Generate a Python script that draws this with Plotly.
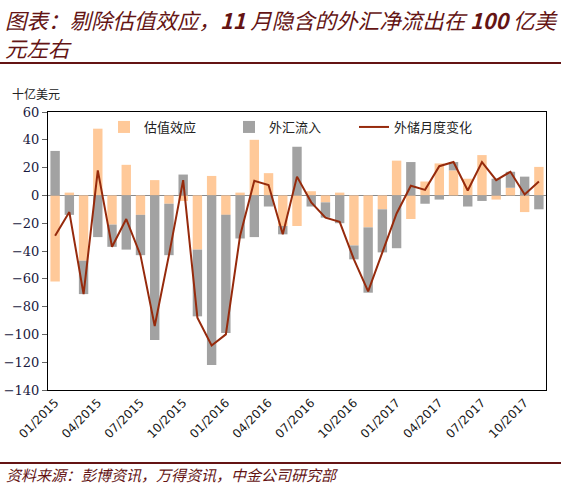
import plotly.graph_objects as go

# months 01/2015 .. 11/2017
months = [f"{m:02d}/{y}" for y in (2015, 2016, 2017) for m in range(1, 13)][:35]

# 估值效应 (valuation effect), 十亿美元
valuation = [-62, 2, -47, 48, -21, 22, -14, 11, -6, -4, -39, 14,
             -14, 2, 40, 16, -22, -22, 3, -5, 2, -36, -23, -10,
             25, -17, 10, 23, 18, 12, 29, -3, 5.5, -12, 20.5]

# 外汇流入 (FX inflow)
fx_inflow = [32, -14, -24, -30, -16, -39, -29, -104, -37, 15, -48, -122,
             -85, -31, -30, -8, -6, 35, -8, -11, -20, -10, -47, -31,
             -38, 24, -6, -3, 6, -8, -4, 12, 11.5, 13.5, -10]

# 外储月度变化 (monthly change in reserves)
reserve_change = [-29, -12, -71, 18, -37, -17, -43, -94, -43, 11, -88, -108,
                  -100, -29, 10.5, 7.5, -28, 13.5, -5, -16, -19, -46, -69, -41,
                  -13, 7, 4, 21, 24, 3.5, 24, 11, 17, 0.7, 10]

tick_labels = months[::3]

RED = "#641414"
CJK = "Noto Sans CJK SC"

fig = go.Figure()
fig.add_trace(go.Bar(x=months, y=valuation, name="估值效应",
                     marker_color="#FFC999", marker_line_width=0))
fig.add_trace(go.Bar(x=months, y=fx_inflow, name="外汇流入",
                     marker_color="#A2A2A2", marker_line_width=0))
fig.add_trace(go.Scatter(x=months, y=reserve_change, name="外储月度变化",
                         mode="lines", line=dict(color="#962A0C", width=2)))

L, R, T, B = 48, 546, 112, 390
W, H = R - L, B - T

def px(x):
    return (x - L) / W

def py(y):
    return (B - y) / H

fig.update_layout(
    width=561, height=492,
    margin=dict(l=L, r=561 - R, t=T, b=492 - B),
    paper_bgcolor="white", plot_bgcolor="white",
    barmode="relative", bargap=0.34,
    font=dict(family="DejaVu Sans", size=12, color="#1a1a1a"),
    showlegend=True,
    legend=dict(orientation="h", x=px(104), y=1.0, xanchor="left", yanchor="top",
                font=dict(family=CJK, size=13, color="#222"),
                entrywidth=80, bgcolor="rgba(0,0,0,0)", traceorder="normal",
                itemwidth=30),
    xaxis=dict(type="category", tickmode="array", tickvals=tick_labels,
               ticktext=tick_labels, tickangle=-45, showgrid=False,
               showline=True, linecolor="black", linewidth=1, mirror=True,
               ticks="", automargin=False,
               tickfont=dict(size=12, family="DejaVu Sans")),
    yaxis=dict(range=[-140, 60], dtick=20, showgrid=False, zeroline=True,
               zerolinecolor="#8a8a8a", zerolinewidth=1,
               showline=True, linecolor="black", linewidth=1, mirror=True,
               ticks="outside", ticklen=5, tickcolor="#666", automargin=False,
               tickfont=dict(size=13, family="DejaVu Serif", color="#1a1a40")),
)

# two-line title in one annotation
fig.add_annotation(text="<i>图表：剔除估值效应，<b>11</b> 月隐含的外汇净流出在 <b>100</b> 亿美"
                        "<br>元左右</i>",
                   x=px(3), y=py(33), xref="paper", yref="paper",
                   xanchor="left", yanchor="middle", align="left", showarrow=False,
                   font=dict(family=CJK, size=21.5, color=RED))
fig.add_shape(type="line", xref="paper", yref="paper",
              x0=px(0), x1=px(561), y0=py(63), y1=py(63),
              line=dict(color=RED, width=2))
fig.add_annotation(text="十亿美元", x=px(10), y=py(93), xref="paper", yref="paper",
                   xanchor="left", yanchor="middle", showarrow=False,
                   font=dict(family=CJK, size=12, color="#222"))
fig.add_shape(type="line", xref="paper", yref="paper",
              x0=px(0), x1=px(561), y0=py(463), y1=py(463),
              line=dict(color=RED, width=2))
fig.add_annotation(text="<i>资料来源：彭博资讯，万得资讯，中金公司研究部</i>",
                   x=px(4), y=py(475), xref="paper", yref="paper",
                   xanchor="left", yanchor="middle", showarrow=False,
                   font=dict(family=CJK, size=15, color=RED))

# drop the browser's default 8px body margin so the figure sits at (0, 0)
fig.write_html("out.html", config={"displayModeBar": False},
               post_script="document.body.style.margin='0';")
